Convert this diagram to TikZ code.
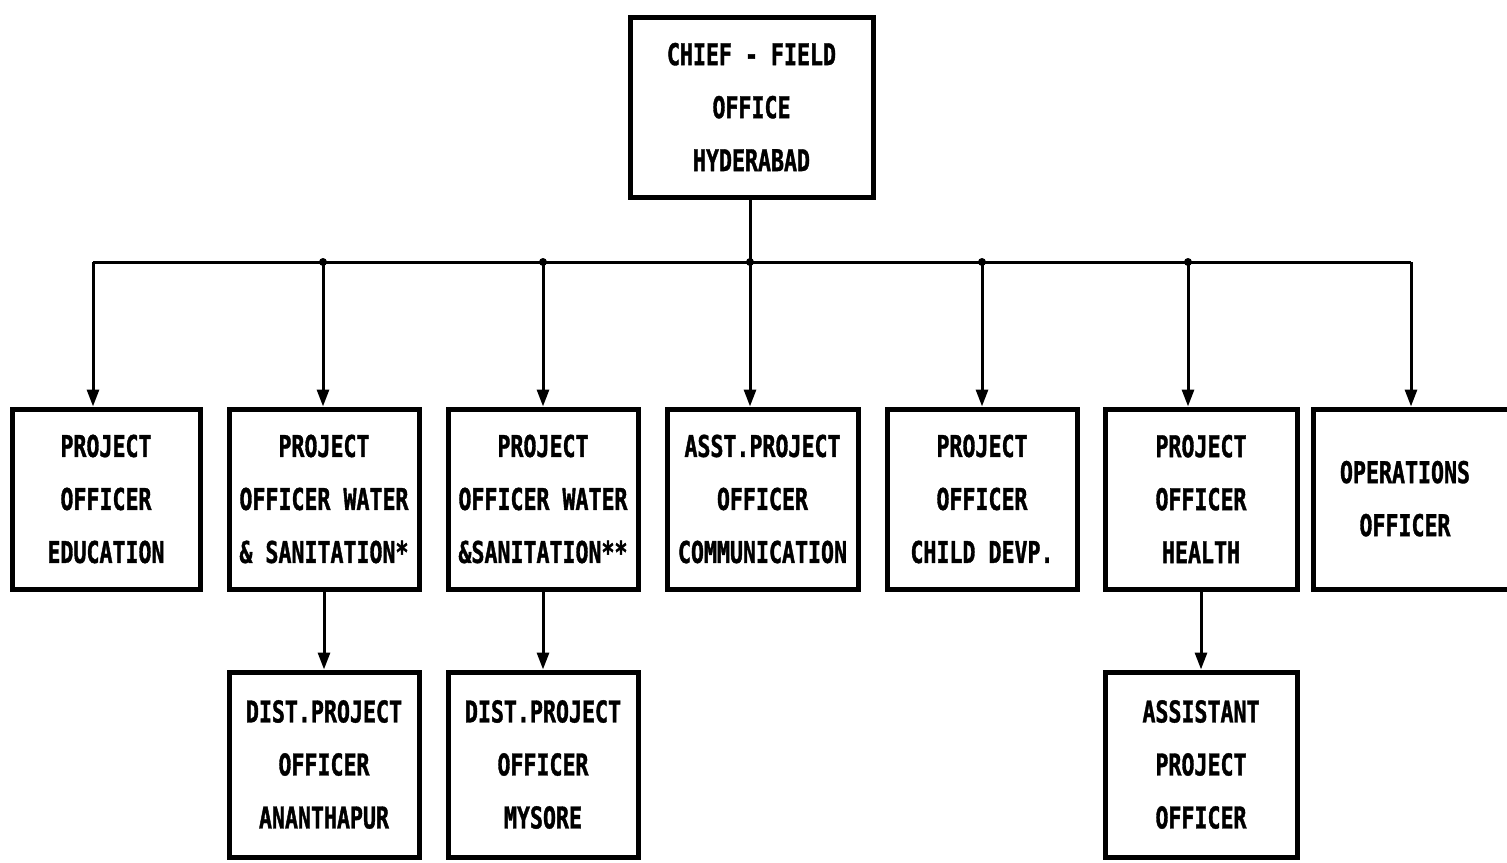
\documentclass[tikz,border=0pt]{standalone}
\usepackage{fontspec}
\newfontfamily\boxfont[FakeStretch=0.72,FakeBold=1.2]{DejaVu Sans Mono}
\usetikzlibrary{arrows.meta}
\begin{document}
\begin{tikzpicture}[x=1pt,y=-1pt,
  orgbox/.style={draw, line width=5pt, inner sep=0pt, align=center,
    font=\boxfont\bfseries\fontsize{30}{53}\selectfont},
  conn/.style={line width=3pt},
  arr/.style={line width=3pt, -{Triangle[length=17pt,width=12pt]}},
  jdot/.style={circle, fill, inner sep=0pt, minimum size=8pt}]
\useasboundingbox (0,0) rectangle (1507,862);
\fill[white] (0,0) rectangle (1507,862);
% top
\node[orgbox, minimum width=243pt, minimum height=180pt] (chief) at (751.5,107) {CHIEF - FIELD\\OFFICE\\HYDERABAD};
% row 1
\node[orgbox, minimum width=188pt, minimum height=180pt] (edu) at (106,499) {PROJECT\\OFFICER\\EDUCATION};
\node[orgbox, minimum width=190pt, minimum height=180pt] (wat1) at (324,499) {PROJECT\\OFFICER WATER\\\& SANITATION*};
\node[orgbox, minimum width=190pt, minimum height=180pt] (wat2) at (543,499) {PROJECT\\OFFICER WATER\\\&SANITATION**};
\node[orgbox, minimum width=191pt, minimum height=180pt] (comm) at (762.5,499) {ASST.PROJECT\\OFFICER\\COMMUNICATION};
\node[orgbox, minimum width=190pt, minimum height=180pt] (child) at (982,499) {PROJECT\\OFFICER\\CHILD DEVP.};
\node[orgbox, minimum width=192pt, minimum height=180pt] (health) at (1201,499) {PROJECT\\OFFICER\\HEALTH};
\node[orgbox, minimum width=212pt, minimum height=180pt] (ops) at (1419,499) {\begin{tabular}{@{}c@{\hspace{28pt}}}OPERATIONS\\OFFICER\end{tabular}};
% row 2
\node[orgbox, minimum width=190pt, minimum height=185pt] (anan) at (324,764.5) {DIST.PROJECT\\OFFICER\\ANANTHAPUR};
\node[orgbox, minimum width=190pt, minimum height=185pt] (mys) at (543,764.5) {DIST.PROJECT\\OFFICER\\MYSORE};
\node[orgbox, minimum width=192pt, minimum height=185pt] (asst) at (1201,764.5) {ASSISTANT\\PROJECT\\OFFICER};
% bus
\coordinate (b1) at (93,262);
\coordinate (b2) at (323,262);
\coordinate (b3) at (543,262);
\coordinate (bc) at (750,262);
\coordinate (b5) at (982,262);
\coordinate (b6) at (1188,262);
\coordinate (b7) at (1411,262);
\draw[conn] (chief.south -| bc) -- (bc);
\draw[conn] (b1) -- (b7);
\draw[arr] (b1) -- (b1 |- edu.north);
\draw[arr] (b2) -- (b2 |- wat1.north);
\draw[arr] (b3) -- (b3 |- wat2.north);
\draw[arr] (bc) -- (bc |- comm.north);
\draw[arr] (b5) -- (b5 |- child.north);
\draw[arr] (b6) -- (b6 |- health.north);
\draw[arr] (b7) -- (b7 |- ops.north);
\node[jdot] (d2) at (b2) {};
\node[jdot] (d3) at (b3) {};
\node[jdot] (dc) at (bc) {};
\node[jdot] (d5) at (b5) {};
\node[jdot] (d6) at (b6) {};
% second level
\draw[arr] (wat1.south) -- (anan.north);
\draw[arr] (wat2.south) -- (mys.north);
\draw[arr] (health.south) -- (asst.north);
\end{tikzpicture}
\end{document}
